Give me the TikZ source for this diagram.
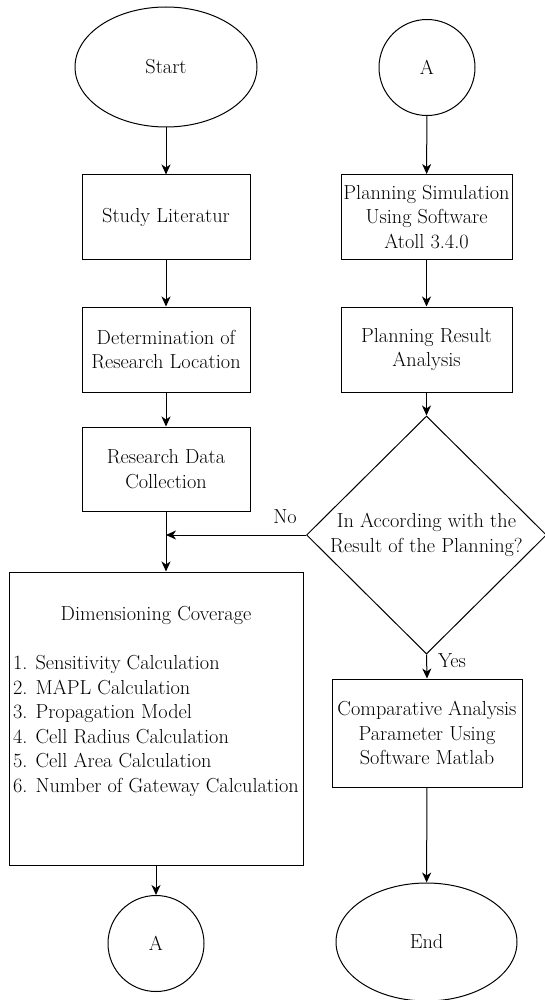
\documentclass[tikz,border=0pt]{standalone}
\usetikzlibrary{shapes.geometric,arrows.meta}
\begin{document}
\begin{tikzpicture}[x=1pt,y=-1pt,
  font=\rmfamily\fontsize{20.3}{24.6}\selectfont,
  line width=1pt,
  box/.style={draw, rectangle, inner sep=0pt, align=center},
  term/.style={draw, ellipse, inner sep=0pt},
  conn/.style={draw, circle, inner sep=0pt, minimum size=96pt},
  decision/.style={draw, diamond, inner sep=0pt, minimum width=240pt, minimum height=238pt},
  txt/.style={inner sep=0pt, align=center},
  arr/.style={-{Stealth[length=10pt,width=9pt,inset=3pt]}}]
\useasboundingbox (0,0) rectangle (545,1000);

% left column
\node[term, minimum width=182pt, minimum height=120pt] (start) at (166,67) {Start};
\node[box, minimum width=168pt, minimum height=84pt] (study) at (166,217) {Study Literatur};
\node[box, minimum width=168pt, minimum height=85pt] (loc) at (166,349.5) {Determination of\\Research Location};
\node[box, minimum width=168pt, minimum height=84pt] (data) at (166,469) {Research Data\\Collection};
\node[box, minimum width=294pt, minimum height=293pt] (dim) at (156,718.5) {};
\node[txt] (dimtitle) at (156,615) {Dimensioning Coverage};
\node[txt, align=left, anchor=west] (dimlist) at (12.5,726) {1. Sensitivity Calculation\\2. MAPL Calculation\\3. Propagation Model\\4. Cell Radius Calculation\\5. Cell Area Calculation\\6. Number of Gateway Calculation};
\node[conn] (a2) at (156,943.5) {A};

% right column
\node[conn] (a1) at (427,67.5) {A};
\node[box, minimum width=171pt, minimum height=85pt] (sim) at (426.5,217) {Planning Simulation\\Using Software\\Atoll 3.4.0};
\node[box, minimum width=171pt, minimum height=85pt] (res) at (426.5,349.5) {Planning Result\\Analysis};
\node[decision] (dec) at (426.5,535) {};
\node[txt] (dectext) at (426.5,535) {In According with the\\Result of the Planning?};
\node[box, minimum width=190pt, minimum height=108pt] (comp) at (427,733) {Comparative Analysis\\Parameter Using\\Software Matlab};
\node[term, minimum width=181pt, minimum height=118pt] (endn) at (426.5,942) {End};

% labels
\node[txt] (no) at (285,517) {No};
\node[txt] (yes) at (452,661) {Yes};

% connectors
\draw[arr] (start) -- (study);
\draw[arr] (study) -- (loc);
\draw[arr] (loc) -- (data);
\draw[arr] (data.south) -- (data.south |- dim.north);
\draw[arr] (dec.west) -- (dec.west -| data.south);
\draw[arr] (dim.south) -- (a2.north);
\draw[arr] (a1) -- (sim);
\draw[arr] (sim) -- (res);
\draw[arr] (res.south) -- (dec.north);
\draw[arr] (dec.south) -- (comp.north);
\draw[arr] (comp) -- (endn);
\end{tikzpicture}
\end{document}
